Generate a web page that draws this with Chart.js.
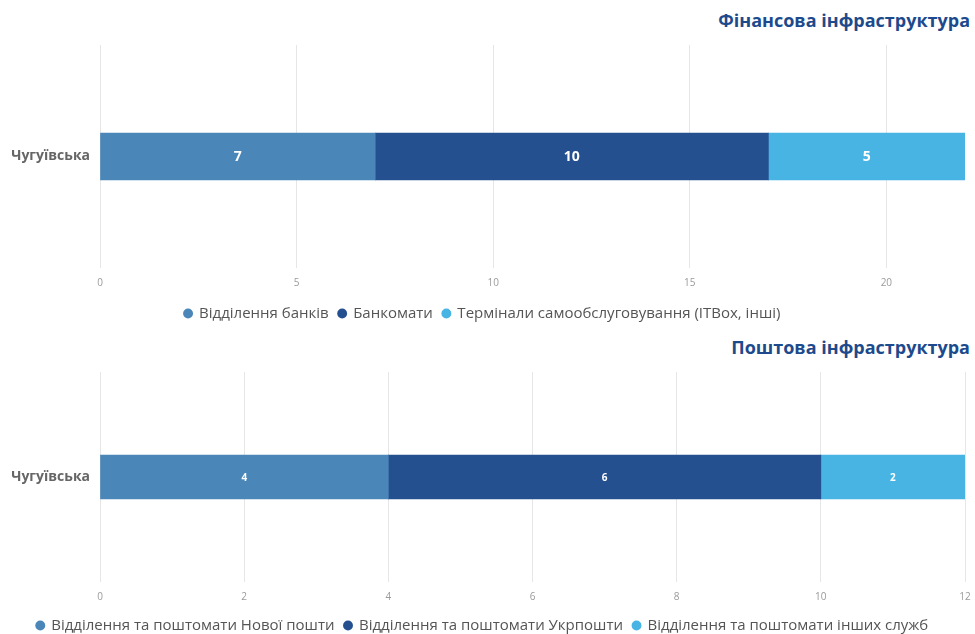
<!DOCTYPE html>
<html>
<head>
<meta charset="utf-8">
<script src="https://cdn.jsdelivr.net/npm/chart.js@4/dist/chart.umd.min.js"></script>
<style>
  html, body { margin: 0; padding: 0; width: 975px; height: 634px; overflow: hidden; background: #fff; }
  .wrap { position: absolute; left: 0; width: 975px; }
  .title { position: absolute; right: 5px; font-family: "Open Sans", sans-serif; font-weight: 700; font-size: 18px; color: #1d4a8c; white-space: nowrap; }
</style>
</head>
<body>
<div class="title" style="top:8px;">Фінансова інфраструктура</div>
<div class="title" style="top:335px;">Поштова інфраструктура</div>
<div class="wrap" style="top:0;height:331px;"><canvas id="c1" width="975" height="331"></canvas></div>
<div class="wrap" style="top:335px;height:308px;"><canvas id="c2" width="975" height="308"></canvas></div>
<script>
// ---- data ----
const categories = ['Чугуївська'];

const finLabels = ['Відділення банків', 'Банкомати', 'Термінали самообслуговування (ITBox, інші)'];
const finBranches = [7];
const finAtms = [10];
const finTerminals = [5];
const finMax = 22;
const finStep = 5;

const postLabels = ['Відділення та поштомати Нової пошти', 'Відділення та поштомати Укрпошти', 'Відділення та поштомати інших служб'];
const postNova = [4];
const postUkr = [6];
const postOther = [2];
const postMax = 12;
const postStep = 2;

const colors = ['#4a86b8', '#24508f', '#47b4e3'];

const valueLabels = {
  id: 'valueLabels',
  afterDatasetsDraw(chart, args, opts) {
    const ctx = chart.ctx;
    ctx.save();
    ctx.fillStyle = '#ffffff';
    ctx.font = 'bold ' + opts.size + 'px "Open Sans", sans-serif';
    ctx.textAlign = 'center';
    ctx.textBaseline = 'middle';
    chart.data.datasets.forEach((ds, i) => {
      const meta = chart.getDatasetMeta(i);
      meta.data.forEach((bar, j) => {
        const x = (bar.x + bar.base) / 2;
        ctx.fillText(String(ds.data[j]), x, bar.y + 1);
      });
    });
    ctx.restore();
  }
};

function makeChart(id, labels, series, max, step, padTop, padRight, axisH, labelSize, barThick) {
  return new Chart(document.getElementById(id), {
    type: 'bar',
    data: {
      labels: categories,
      datasets: series.map((d, i) => ({
        label: labels[i],
        data: d,
        backgroundColor: colors[i],
        borderWidth: 0,
        barThickness: barThick
      }))
    },
    options: {
      indexAxis: 'y',
      responsive: false,
      animation: false,
      layout: { padding: { top: padTop, left: 0, right: padRight, bottom: 0 } },
      scales: {
        x: {
          stacked: true,
          min: 0,
          max: max,
          border: { display: false },
          grid: { color: '#e6e6e6', drawTicks: true, tickLength: 9, tickColor: 'rgba(0,0,0,0)' },
          ticks: {
            stepSize: step,
            padding: 0,
            color: '#9a9a9a',
            font: { family: '"Open Sans", sans-serif', size: 10 }
          },
          afterBuildTicks(axis) { axis.ticks = axis.ticks.filter(t => t.value % step === 0); },
          afterFit(scale) { scale.height = axisH; }
        },
        y: {
          stacked: true,
          border: { display: false },
          grid: { display: false, drawTicks: false },
          ticks: {
            padding: 10,
            color: '#666666',
            font: { family: '"Open Sans", sans-serif', size: 14, weight: 'bold' }
          },
          afterFit(scale) { scale.width = 100; }
        }
      },
      plugins: {
        legend: {
          position: 'bottom',
          labels: {
            usePointStyle: true,
            pointStyle: 'circle',
            boxWidth: 7,
            boxHeight: 7,
            padding: 10,
            color: '#555555',
            font: { family: '"Open Sans", sans-serif', size: 15 }
          }
        },
        tooltip: { enabled: false },
        valueLabels: { size: labelSize }
      }
    },
    plugins: [valueLabels]
  });
}

makeChart('c1', finLabels, [finBranches, finAtms, finTerminals], finMax, finStep, 45, 10, 28, 14, 47);
makeChart('c2', postLabels, [postNova, postUkr, postOther], postMax, postStep, 37, 10, 26, 10, 44);
</script>
</body>
</html>
